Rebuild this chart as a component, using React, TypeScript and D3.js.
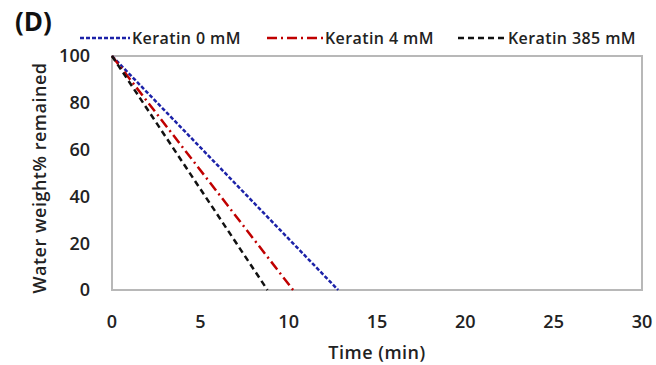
import React, { useEffect, useRef } from "react";
import * as d3 from "d3";

// time (min) and water weight % remained
const times0 = [0, 12.8];
const values0 = [100, 0];
const times4 = [0, 10.25];
const values4 = [100, 0];
const times385 = [0, 8.8];
const values385 = [100, 0];

const xTicks = [0, 5, 10, 15, 20, 25, 30];
const yTicks = [0, 20, 40, 60, 80, 100];

const seriesNames = ["Keratin 0 mM", "Keratin 4 mM", "Keratin 385 mM"];
const seriesColors = ["#1c22a8", "#c00000", "#111111"];
const seriesDash = ["4,2", "10,4,2,4", "6,4"];

const App = () => {
  const ref = useRef<SVGSVGElement>(null);

  useEffect(() => {
    const width = 656;
    const height = 365;
    const margin = { top: 56, right: 14, bottom: 75, left: 112 };
    const font = "'Open Sans', sans-serif";

    const svg = d3.select(ref.current);
    svg.selectAll("*").remove();
    svg.attr("width", width).attr("height", height);

    const x = d3
      .scaleLinear()
      .domain([0, 30])
      .range([margin.left, width - margin.right]);
    const y = d3
      .scaleLinear()
      .domain([0, 100])
      .range([height - margin.bottom, margin.top]);

    // plot frame
    svg
      .append("rect")
      .attr("x", x(0))
      .attr("y", y(100))
      .attr("width", x(30) - x(0))
      .attr("height", y(0) - y(100))
      .attr("fill", "none")
      .attr("stroke", "#b8b8b8")
      .attr("stroke-width", 2);

    // tick labels
    svg
      .selectAll("text.ytick")
      .data(yTicks)
      .enter()
      .append("text")
      .attr("class", "ytick")
      .attr("x", x(0) - 22)
      .attr("y", (d) => y(d))
      .attr("dy", "0.35em")
      .attr("text-anchor", "end")
      .style("font-family", font)
      .style("font-size", "18px")
      .style("font-weight", 600)
      .style("fill", "#222")
      .text((d) => d);

    svg
      .selectAll("text.xtick")
      .data(xTicks)
      .enter()
      .append("text")
      .attr("class", "xtick")
      .attr("x", (d) => x(d))
      .attr("y", y(0) + 38)
      .attr("text-anchor", "middle")
      .style("font-family", font)
      .style("font-size", "18px")
      .style("font-weight", 600)
      .style("fill", "#222")
      .text((d) => d);

    // axis titles
    svg
      .append("text")
      .attr("x", (x(0) + x(30)) / 2)
      .attr("y", 359)
      .attr("text-anchor", "middle")
      .style("font-family", font)
      .style("font-size", "18px")
      .style("font-weight", 600)
      .style("letter-spacing", "0.5px")
      .style("fill", "#222")
      .text("Time (min)");

    svg
      .append("text")
      .attr("transform", `translate(46, ${(y(0) + y(100)) / 2 + 5}) rotate(-90)`)
      .attr("text-anchor", "middle")
      .style("font-family", font)
      .style("font-size", "18px")
      .style("font-weight", 600)
      .style("letter-spacing", "0.5px")
      .style("fill", "#222")
      .text("Water weight% remained");

    // series
    const line = d3
      .line<[number, number]>()
      .x((d) => x(d[0]))
      .y((d) => y(d[1]));

    const series = [
      d3.zip(times0, values0),
      d3.zip(times4, values4),
      d3.zip(times385, values385),
    ] as [number, number][][];

    series.forEach((pts, i) => {
      svg
        .append("path")
        .datum(pts)
        .attr("d", line)
        .attr("fill", "none")
        .attr("stroke", seriesColors[i])
        .attr("stroke-width", 2.5)
        .attr("stroke-dasharray", seriesDash[i]);
    });

    // panel label
    svg
      .append("text")
      .attr("x", 15)
      .attr("y", 31)
      .style("font-family", font)
      .style("font-size", "26px")
      .style("font-weight", 700)
      .style("fill", "#111")
      .text("(D)");

    // legend
    const lineX = [80, 267, 458];
    const textX = [132, 325, 508];
    const legend = svg
      .selectAll("g.legend")
      .data(seriesNames)
      .enter()
      .append("g")
      .attr("class", "legend");

    legend
      .append("line")
      .attr("x1", (d, i) => lineX[i])
      .attr("x2", (d, i) => textX[i] - 2)
      .attr("y1", 38)
      .attr("y2", 38)
      .attr("stroke", (d, i) => seriesColors[i])
      .attr("stroke-width", 2.5)
      .attr("stroke-dasharray", (d, i) => seriesDash[i]);

    legend
      .append("text")
      .attr("x", (d, i) => textX[i])
      .attr("y", 38)
      .attr("dy", "0.35em")
      .style("font-family", font)
      .style("font-size", "16px")
      .style("font-weight", 600)
      .style("letter-spacing", "0.4px")
      .style("fill", "#222")
      .text((d) => d);
  }, []);

  return (
    <div style={{ position: "fixed", left: 0, top: 0, background: "#fff" }}>
      <svg ref={ref} width={656} height={365}></svg>
    </div>
  );
};

export default App;
